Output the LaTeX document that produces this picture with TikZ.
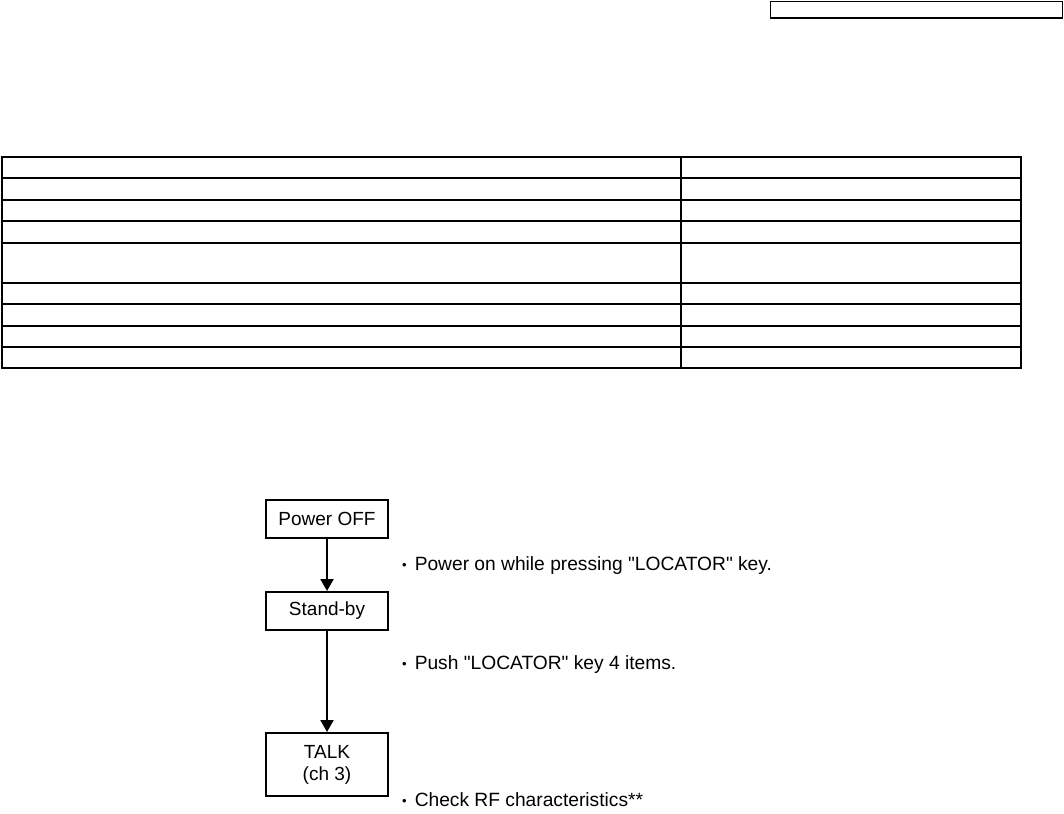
\documentclass[tikz,border=0pt]{standalone}
\usepackage{fontspec}
\setmainfont{Liberation Sans}[Ligatures=TeXOff]
\usetikzlibrary{arrows.meta}
\newcommand{\dq}{\char"22\relax}
\newcommand{\bul}{{\fontsize{13}{13}\selectfont\raisebox{1pt}{•}}\hspace{8pt}}
\tikzset{
  flowbox/.style={draw, line width=2pt, minimum width=122pt, align=center, inner sep=0pt, font=\fontsize{19}{22}\selectfont},
  note/.style={anchor=west, inner sep=0pt, font=\fontsize{19.2}{22}\selectfont},
  arr/.style={line width=2pt, -{Triangle[width=13pt,length=12pt]}},
  thickrule/.style={line width=2pt},
  thinrule/.style={line width=1.2pt}
}
\begin{document}
\begin{tikzpicture}[x=1pt,y=-1pt]
\useasboundingbox (0,0) rectangle (1064,813);
% top-right box
\draw[line width=1.4pt] (770.5,1.5) rectangle (1062.5,18);
% table
\draw[thickrule] (1.5,157) rectangle (1020.5,368);
\draw[thickrule] (680.5,157) -- (680.5,368);
\foreach \yy in {178,243,283,304,326}{\draw[thickrule] (1.5,\yy) -- (1020.5,\yy);}
\foreach \yy in {200,221,347}{\draw[thinrule] (1.5,\yy) -- (1020.5,\yy);}
% flowchart
\node[flowbox, minimum height=38pt] (poweroff) at (327,518.5) {Power OFF};
\node[flowbox, minimum height=38pt] (standby) at (327,611) {Stand-by};
\node[flowbox, minimum height=63pt] (talk) at (327,764.5) {TALK\\(ch 3)};
\draw[arr] (poweroff) -- (standby);
\draw[arr] (standby) -- (talk);
\node[note] (n1) at (402,566) {\bul Power on while pressing \dq LOCATOR\dq\ key.};
\node[note] (n2) at (402,665) {\bul Push \dq LOCATOR\dq\ key 4 items.};
\node[note] (n3) at (402,800) {\bul Check RF characteristics**};
\end{tikzpicture}
\end{document}
